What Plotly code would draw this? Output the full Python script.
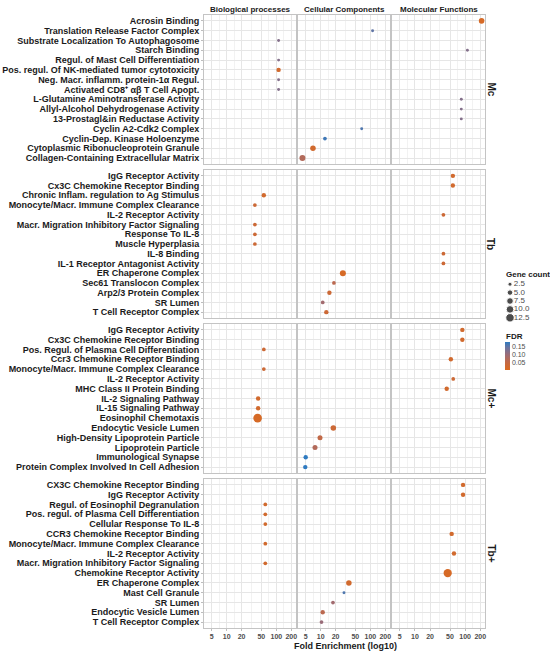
import plotly.graph_objects as go

# facet columns / rows
onto_keys = ["BP", "CC", "MF"]
onto_titles = ["Biological processes", "Cellular Components", "Molecular Functions"]
group_names = ["Mc", "Tb", "Mc+", "Tb+"]

# Mc
mc_terms = ["Acrosin Binding", "Translation Release Factor Complex",
            "Substrate Localization To Autophagosome", "Starch Binding",
            "Regul. of Mast Cell Differentiation",
            "Pos. regul. Of NK-mediated tumor cytotoxicity",
            "Neg. Macr. inflamm. protein-1α Regul.",
            "Activated CD8⁺ αβ T Cell Apopt.",
            "L-Glutamine Aminotransferase Activity",
            "Allyl-Alcohol Dehydrogenase Activity",
            "13-Prostagl&in Reductase Activity", "Cyclin A2-Cdk2 Complex",
            "Cyclin-Dep. Kinase Holoenzyme",
            "Cytoplasmic Ribonucleoprotein Granule",
            "Collagen-Containing Extracellular Matrix"]
mc_onto = ["MF", "CC", "BP", "MF", "BP", "BP", "BP", "BP", "MF", "MF", "MF", "CC", "CC", "CC", "CC"]
mc_fold = [213, 111, 111, 111, 111, 111, 111, 111, 84, 84, 84, 67, 12.2, 7.0, 4.3]
mc_genes = [5, 1, 1, 1, 1, 3, 1, 1, 1, 1, 1, 1, 2, 5, 6]
mc_fdr = [0.01, 0.15, 0.12, 0.12, 0.12, 0.02, 0.12, 0.12, 0.12, 0.12, 0.12, 0.16, 0.17, 0.02, 0.07]

# Tb
tb_terms = ["IgG Receptor Activity", "Cx3C Chemokine Receptor Binding",
            "Chronic Inflam. regulation to Ag Stimulus",
            "Monocyte/Macr. Immune Complex Clearance", "IL-2 Receptor Activity",
            "Macr. Migration Inhibitory Factor Signaling", "Response To IL-8",
            "Muscle Hyperplasia", "IL-8 Binding",
            "IL-1 Receptor Antagonist Activity", "ER Chaperone Complex",
            "Sec61 Translocon Complex", "Arp2/3 Protein Complex", "SR Lumen",
            "T Cell Receptor Complex"]
tb_onto = ["MF", "MF", "BP", "BP", "MF", "BP", "BP", "BP", "MF", "MF", "CC", "CC", "CC", "CC", "CC"]
tb_fold = [57, 57, 56, 37, 37, 37, 37, 37, 37, 37, 28, 18.5, 15, 11, 13]
tb_genes = [3, 3, 3, 2, 2, 2, 2, 2, 2, 2, 6, 2, 3, 2, 3]
tb_fdr = [0.02, 0.02, 0.02, 0.03, 0.03, 0.03, 0.03, 0.03, 0.03, 0.03, 0.01, 0.06, 0.03, 0.09, 0.03]

# Mc+
mcp_terms = ["IgG Receptor Activity", "Cx3C Chemokine Receptor Binding",
             "Pos. Regul. of Plasma Cell Differentiation",
             "Ccr3 Chemokine Receptor Binding",
             "Monocyte/Macr. Immune Complex Clearance", "IL-2 Receptor Activity",
             "MHC Class II Protein Binding", "IL-2 Signaling Pathway",
             "IL-15 Signaling Pathway", "Eosinophil Chemotaxis",
             "Endocytic Vesicle Lumen", "High-Density Lipoprotein Particle",
             "Lipoprotein Particle", "Immunological Synapse",
             "Protein Complex Involved In Cell Adhesion"]
mcp_onto = ["MF", "MF", "BP", "MF", "BP", "MF", "MF", "BP", "BP", "BP", "CC", "CC", "CC", "CC", "CC"]
mcp_fold = [88, 88, 56, 52, 56, 58, 43, 43, 43, 42, 18, 9.7, 7.7, 5.0, 4.9]
mcp_genes = [3, 3, 2, 3, 2, 2, 3, 3, 3, 13, 5, 4, 4, 3, 3]
mcp_fdr = [0.02, 0.02, 0.03, 0.02, 0.03, 0.03, 0.02, 0.02, 0.02, 0.01, 0.03, 0.05, 0.07, 0.18, 0.18]

# Tb+
tbp_terms = ["CX3C Chemokine Receptor Binding", "IgG Receptor Activity",
             "Regul. of Eosinophil Degranulation",
             "Pos. regul. of Plasma Cell Differentiation",
             "Cellular Response To IL-8", "CCR3 Chemokine Receptor Binding",
             "Monocyte/Macr. Immune Complex Clearance", "IL-2 Receptor Activity",
             "Macr. Migration Inhibitory Factor Signaling",
             "Chemokine Receptor Activity", "ER Chaperone Complex",
             "Mast Cell Granule", "SR Lumen", "Endocytic Vesicle Lumen",
             "T Cell Receptor Complex"]
tbp_onto = ["MF", "MF", "BP", "BP", "BP", "MF", "BP", "MF", "BP", "MF", "CC", "CC", "CC", "CC", "CC"]
tbp_fold = [91, 91, 60, 60, 60, 54, 60, 60, 60, 45, 37, 29.5, 17.7, 11, 10.4]
tbp_genes = [3, 3, 2, 2, 2, 3, 2, 3, 2, 12, 5, 1, 2, 3, 2]
tbp_fdr = [0.02, 0.02, 0.02, 0.02, 0.02, 0.02, 0.02, 0.02, 0.02, 0.01, 0.02, 0.16, 0.09, 0.06, 0.10]

x_ticks = [5, 10, 20, 50, 100, 200]
size_breaks = [2.5, 5.0, 7.5, 10.0, 12.5]
fdr_ticks = [0.05, 0.10, 0.15]

rows = [
    (mc_terms, mc_onto, mc_fold, mc_genes, mc_fdr),
    (tb_terms, tb_onto, tb_fold, tb_genes, tb_fdr),
    (mcp_terms, mcp_onto, mcp_fold, mcp_genes, mcp_fdr),
    (tbp_terms, tbp_onto, tbp_fold, tbp_genes, tbp_fdr),
]

W, H = 550, 655
FONT = "Liberation Sans, Arial, sans-serif"
col_px = [(204, 296), (298, 390), (392, 485)]
row_px = [(15, 164), (170, 318), (324, 473), (479, 628)]


def dot(n):
    # marker diameter in px, area grows with gene count
    return (3 + 5.5 * n) ** 0.5


def px_x(a, b):
    return [a / W, b / W]


def px_y(a, b):
    return [1 - b / H, 1 - a / H]


def label(text, x, y, size, xanchor="center", angle=0):
    return dict(text="<b>%s</b>" % text, x=x / W, y=1 - y / H,
                xref="paper", yref="paper", showarrow=False,
                xanchor=xanchor, yanchor="middle", textangle=angle,
                borderpad=0, font=dict(family=FONT, size=size, color="#1A1A1A"))


fig = go.Figure()
layout = {}

minor_vals = [3.6, 7.07, 14.1, 31.6, 70.7, 141]

for r, (terms, onto, fold, genes, fdr) in enumerate(rows):
    for c, key in enumerate(onto_keys):
        i = r * 3 + c + 1
        sfx = "" if i == 1 else str(i)
        idx = [k for k in range(len(terms)) if onto[k] == key]
        fig.add_trace(go.Scatter(
            x=[fold[k] for k in idx],
            y=[terms[k] for k in idx],
            mode="markers", cliponaxis=False,
            marker=dict(size=[dot(genes[k]) for k in idx],
                        color=[fdr[k] for k in idx],
                        coloraxis="coloraxis", line=dict(width=0), opacity=1),
            xaxis="x" + sfx, yaxis="y" + sfx, showlegend=False,
        ))
        layout["xaxis" + sfx] = dict(
            type="log", domain=px_x(*col_px[c]), anchor="y" + sfx,
            range=[0.544, 2.396], tickvals=x_ticks,
            ticktext=[str(v) for v in x_ticks],
            showticklabels=(r == 3), ticks="outside" if r == 3 else "",
            ticklen=2, tickcolor="#BDBDBD",
            tickfont=dict(family=FONT, size=7, color="#4D4D4D", weight="bold"),
            showgrid=True, gridcolor="#E6E6E6", gridwidth=0.6,
            minor=dict(tickvals=minor_vals, showgrid=True,
                       gridcolor="#F2F2F2", gridwidth=0.5),
            showline=True, mirror=True, linecolor="#C4C4C4", linewidth=1,
            zeroline=False, fixedrange=True,
        )
        layout["yaxis" + sfx] = dict(
            type="category", domain=px_y(*row_px[r]), anchor="x" + sfx,
            categoryorder="array", categoryarray=terms,
            tickvals=terms, range=[len(terms) - 0.4, -0.6],
            showticklabels=(c == 0), ticks="outside" if c == 0 else "",
            ticklen=2, tickcolor="#BDBDBD",
            tickfont=dict(family=FONT, size=9, color="#1A1A1A", weight="bold"),
            showgrid=True, gridcolor="#E6E6E6", gridwidth=0.6,
            showline=True, mirror=True, linecolor="#C4C4C4", linewidth=1,
            zeroline=False, fixedrange=True,
        )

# size legend drawn on its own small axis
fig.add_trace(go.Scatter(
    x=[0.125] * len(size_breaks), y=list(range(len(size_breaks))),
    mode="markers", marker=dict(size=[dot(v) for v in size_breaks], color="black"),
    xaxis="x13", yaxis="y13", showlegend=False, hoverinfo="skip",
))
fig.add_trace(go.Scatter(
    x=[0.22] * len(size_breaks), y=list(range(len(size_breaks))),
    mode="text", text=["%.1f" % v for v in size_breaks], textposition="middle right",
    textfont=dict(family=FONT, size=8, color="#4D4D4D"),
    xaxis="x13", yaxis="y13", showlegend=False, hoverinfo="skip",
))
layout["xaxis13"] = dict(domain=px_x(505, 545), range=[0, 1], visible=False,
                         anchor="y13", fixedrange=True)
layout["yaxis13"] = dict(domain=px_y(280, 322), range=[4.5, -0.5], visible=False,
                         anchor="x13", fixedrange=True)

ann = []
for c, t in enumerate(onto_titles):
    a, b = col_px[c]
    ann.append(label(t, (a + b) / 2, 9.5, 8))
for r, g in enumerate(group_names):
    a, b = row_px[r]
    ann.append(label(g, 491, (a + b) / 2, 10, angle=90))
ann.append(label("Fold Enrichment (log10)", 345, 646, 9))
ann.append(label("Gene count", 505, 275, 8, xanchor="left"))
ann.append(label("FDR", 505, 336, 8, xanchor="left"))

fig.update_layout(
    width=W, height=H,
    margin=dict(l=0, r=0, t=0, b=0),
    paper_bgcolor="white", plot_bgcolor="white",
    annotations=ann,
    coloraxis=dict(
        cmin=0.0, cmax=0.18,
        colorscale=[[0, "#DB6A1E"], [0.3, "#C0694A"], [0.55, "#9A6C78"],
                    [0.8, "#6A74A0"], [1, "#2E7AC0"]],
        colorbar=dict(x=505 / W, xanchor="left", y=1 - 356 / H, yanchor="middle",
                      lenmode="pixels", len=28, thickness=5, outlinewidth=0,
                      tickvals=fdr_ticks, ticktext=["0.05", "0.10", "0.15"],
                      ticks="",
                      tickfont=dict(family=FONT, size=7, color="#4D4D4D"),
                      xpad=0, ypad=0),
    ),
    **layout,
)

fig.write_html("out.html", config={"displayModeBar": False},
               post_script="document.body.style.margin='0';")
